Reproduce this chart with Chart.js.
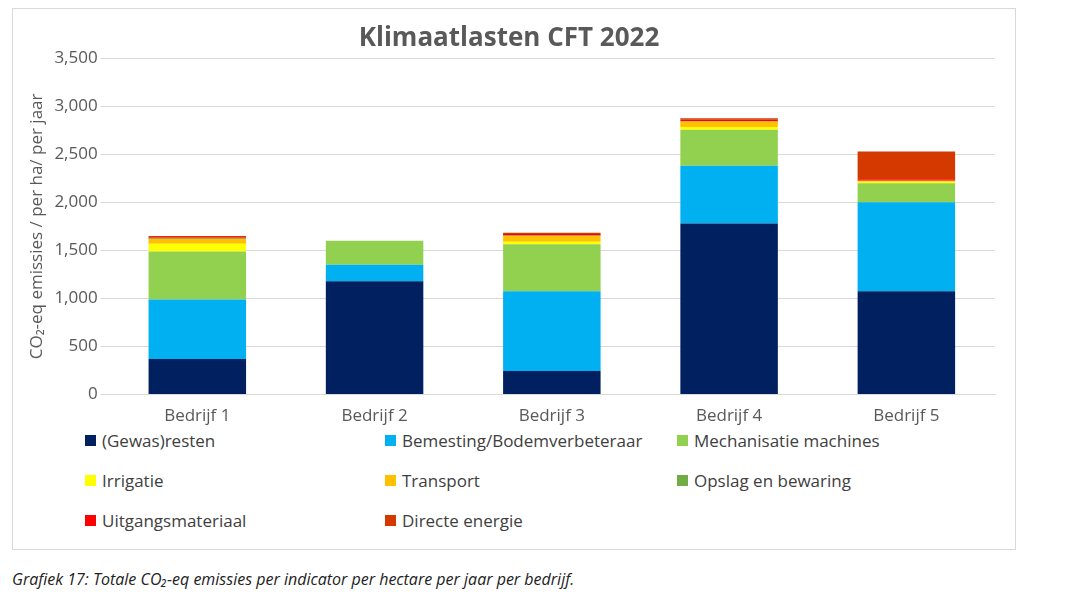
<!DOCTYPE html>
<html lang="nl">
<head>
<meta charset="UTF-8">
<title>Klimaatlasten CFT 2022</title>
<script src="https://cdn.jsdelivr.net/npm/chart.js"></script>
<style>
  body { margin: 0; background: #fff; font-family: "Open Sans", sans-serif; }
  #frame { position: absolute; left: 12px; top: 8px; width: 1004px; height: 542px; border: 1px solid #d9d9d9; box-sizing: border-box; }
  #wrap { position: absolute; left: 0; top: 0; width: 1002px; height: 420px; }
  #legend { position: absolute; left: 72px; top: 420px; display: grid; grid-template-columns: 300px 292px 300px; row-gap: 18px; font-size: 17px; color: #404040; }
  #legend div { display: flex; align-items: center; height: 22px; }
  #legend span { display: inline-block; width: 11px; height: 11px; margin-right: 6px; }
  #caption { position: absolute; left: 12px; top: 568px; font-style: italic; font-size: 16px; color: #222; }
</style>
</head>
<body>
<div id="frame">
  <div id="wrap"><canvas id="chart"></canvas></div>
  <div id="legend"></div>
</div>
<div id="caption">Grafiek 17: Totale CO₂-eq emissies per indicator per hectare per jaar per bedrijf.</div>
<script>
var bedrijven = ['Bedrijf 1', 'Bedrijf 2', 'Bedrijf 3', 'Bedrijf 4', 'Bedrijf 5']
var gewasresten = [370, 1180, 245, 1780, 1075]
var bemesting = [620, 170, 830, 600, 925]
var mechanisatie = [500, 250, 490, 375, 200]
var irrigatie = [80, 0, 25, 30, 15]
var transport = [50, 0, 60, 55, 10]
var opslag = [5, 0, 5, 5, 0]
var uitgangsmateriaal = [10, 0, 15, 15, 15]
var directeEnergie = [15, 0, 15, 15, 290]

var series = [
  ['(Gewas)resten', gewasresten, '#002060'],
  ['Bemesting/Bodemverbeteraar', bemesting, '#00b0f0'],
  ['Mechanisatie machines', mechanisatie, '#92d050'],
  ['Irrigatie', irrigatie, '#ffff00'],
  ['Transport', transport, '#ffc000'],
  ['Opslag en bewaring', opslag, '#70ad47'],
  ['Uitgangsmateriaal', uitgangsmateriaal, '#ff0000'],
  ['Directe energie', directeEnergie, '#d43a00']
]

var legend = document.getElementById('legend')
series.forEach(function (s) {
  var d = document.createElement('div')
  d.innerHTML = '<span style="background:' + s[2] + '"></span>' + s[0]
  legend.appendChild(d)
})

var tickColor = '#595959'
new Chart(document.getElementById('chart'), {
  type: 'bar',
  data: {
    labels: bedrijven,
    datasets: series.map(function (s) {
      return { label: s[0], data: s[1], backgroundColor: s[2], barPercentage: 0.55, categoryPercentage: 1 }
    })
  },
  options: {
    responsive: true,
    maintainAspectRatio: false,
    animation: false,
    layout: { padding: { left: 10, right: 20, top: 8 } },
    plugins: {
      legend: { display: false },
      tooltip: { enabled: false },
      title: { display: true, text: 'Klimaatlasten CFT 2022', color: '#595959', font: { family: 'Open Sans', size: 26 }, padding: { top: 6, bottom: 4 } }
    },
    scales: {
      x: {
        stacked: true,
        grid: { display: false },
        border: { color: '#d9d9d9' },
        ticks: { color: tickColor, font: { family: 'Open Sans', size: 17 } }
      },
      y: {
        stacked: true,
        min: 0, max: 3500,
        ticks: { stepSize: 500, color: tickColor, font: { family: 'Open Sans', size: 17 },
          callback: function (v) { return v.toLocaleString('en-US') } },
        grid: { color: '#d9d9d9' },
        border: { display: false },
        title: { display: true, text: 'CO₂-eq emissies / per ha/ per jaar', color: tickColor, font: { family: 'Open Sans', size: 17 } }
      }
    }
  }
})
</script>
</body>
</html>
